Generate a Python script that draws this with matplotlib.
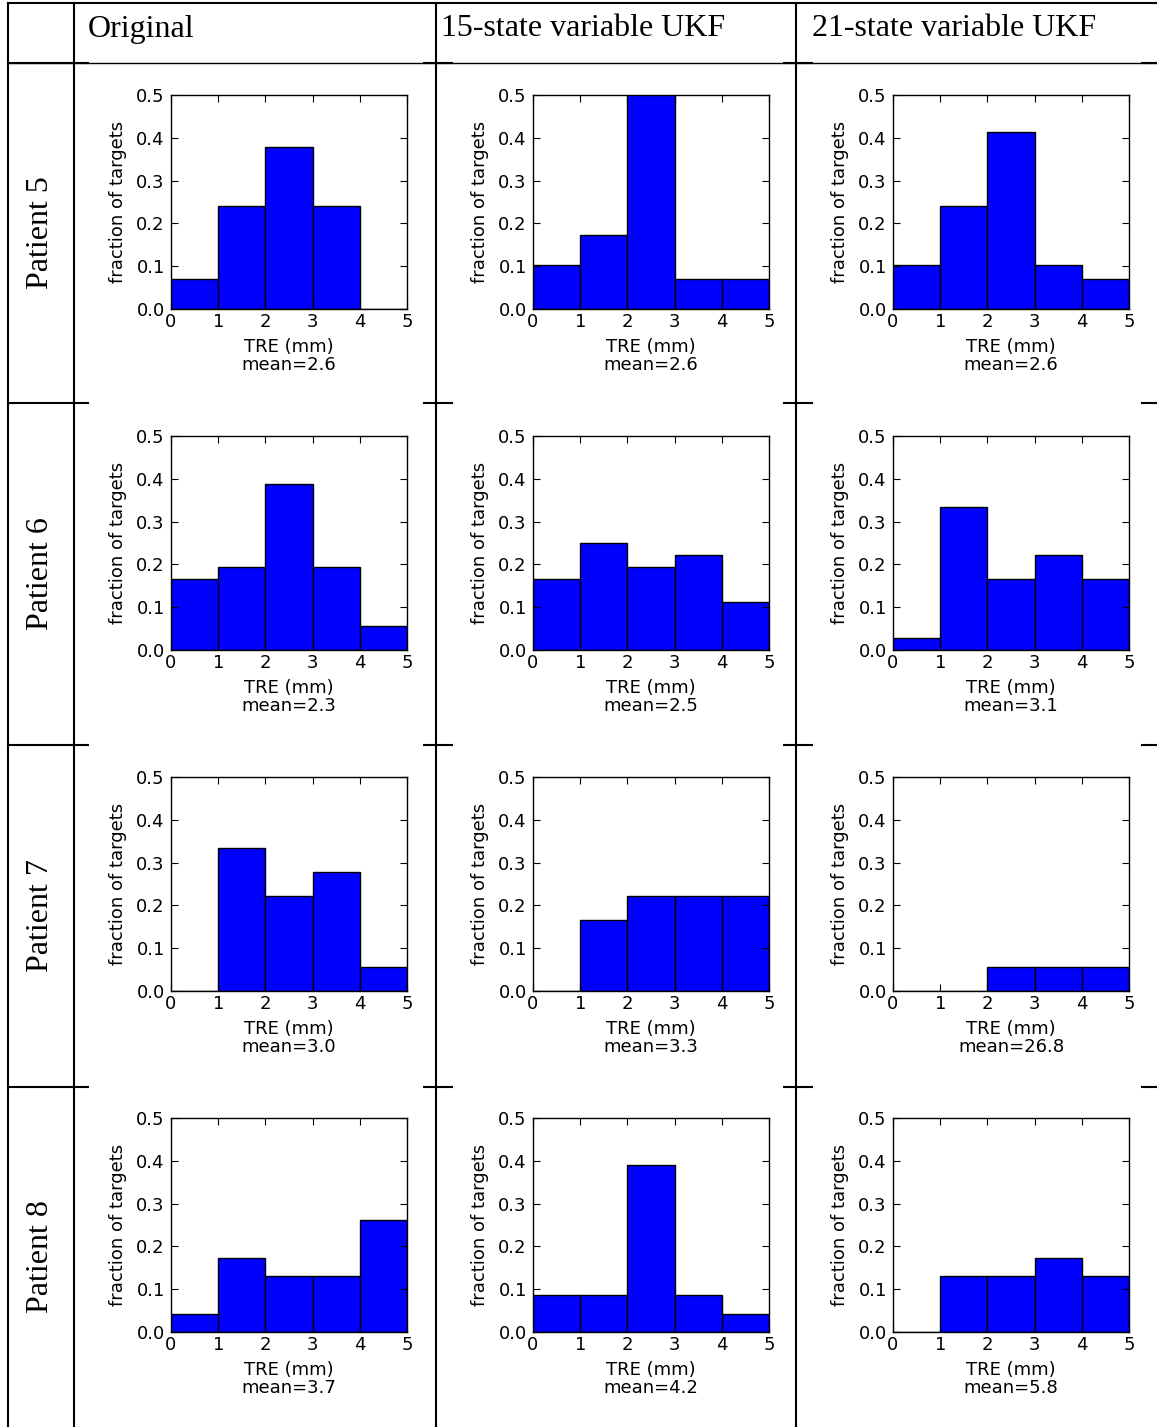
import numpy as np
import matplotlib
matplotlib.use("Agg")
import matplotlib.pyplot as plt

# histogram data: fraction of targets per 1 mm TRE bin (0-5 mm)
bin_edges = [0, 1, 2, 3, 4, 5]
methods = ["Original", "15-state variable UKF", "21-state variable UKF"]
patients = ["Patient 5", "Patient 6", "Patient 7", "Patient 8"]

p5_original = [0.069, 0.241, 0.379, 0.241, 0.0]
p5_ukf15 = [0.103, 0.172, 0.517, 0.069, 0.069]
p5_ukf21 = [0.103, 0.241, 0.414, 0.103, 0.069]

p6_original = [0.167, 0.194, 0.389, 0.194, 0.056]
p6_ukf15 = [0.167, 0.250, 0.194, 0.222, 0.111]
p6_ukf21 = [0.028, 0.333, 0.167, 0.222, 0.167]

p7_original = [0.0, 0.333, 0.222, 0.278, 0.056]
p7_ukf15 = [0.0, 0.167, 0.222, 0.222, 0.222]
p7_ukf21 = [0.0, 0.0, 0.056, 0.056, 0.056]

p8_original = [0.043, 0.174, 0.130, 0.130, 0.261]
p8_ukf15 = [0.087, 0.087, 0.391, 0.087, 0.043]
p8_ukf21 = [0.0, 0.130, 0.130, 0.174, 0.130]

means = [[2.6, 2.6, 2.6],
         [2.3, 2.5, 3.1],
         [3.0, 3.3, 26.8],
         [3.7, 4.2, 5.8]]

table = [[p5_original, p5_ukf15, p5_ukf21],
         [p6_original, p6_ukf15, p6_ukf21],
         [p7_original, p7_ukf15, p7_ukf21],
         [p8_original, p8_ukf15, p8_ukf21]]

W, H = 1157, 1427
fig = plt.figure(figsize=(W / 100, H / 100), dpi=100)

# background axes in pixel coords for the table grid
bg = fig.add_axes([0, 0, 1, 1])
bg.set_xlim(0, W)
bg.set_ylim(H, 0)
bg.axis("off")

vlines_x = [8, 74, 436, 796]
for x in vlines_x:
    bg.plot([x, x], [3, H], color="black", lw=1.5)
bg.plot([8, W], [3, 3], color="black", lw=1.5)

# header separator runs full width, row separators only show as stubs
bg.plot([8, W], [63, 63], color="black", lw=1.0)
row_lines = [63, 403, 745, 1087]
for y in row_lines:
    for x0, x1 in [(8, 88), (424, 452), (784, 812), (1142, W)]:
        bg.plot([x0, x1], [y, y], color="black", lw=1.5)

# header text
head_x = [88, 441, 812]
for x, name in zip(head_x, methods):
    bg.text(x, 29, name, fontsize=23, family="Liberation Serif",
            ha="left", va="center")

row_centers = [233, 574, 916, 1257]
for yc, name in zip(row_centers, patients):
    bg.text(41, yc, name, fontsize=23, family="Liberation Serif",
            rotation=90, ha="center", va="center")

col_left = [171, 533, 893]
row_top = [95, 436, 777, 1118]
ax_w, ax_h = 236, 214

for i, row in enumerate(table):
    for j, vals in enumerate(row):
        left = col_left[j] / W
        bottom = 1 - (row_top[i] + ax_h) / H
        ax = fig.add_axes([left, bottom, ax_w / W, ax_h / H])
        ax.bar(bin_edges[:-1], vals, width=1, align="edge",
               color="#0000ff", edgecolor="black", linewidth=1.0)
        ax.set_xlim(0, 5)
        ax.set_ylim(0, 0.5)
        ax.set_xticks(bin_edges)
        ax.set_yticks([0.0, 0.1, 0.2, 0.3, 0.4, 0.5])
        ax.set_yticklabels(["0.0", "0.1", "0.2", "0.3", "0.4", "0.5"])
        ax.tick_params(direction="in", top=True, right=True, length=5,
                       labelsize=13, colors="black")
        ax.tick_params(axis="x", pad=3)
        ax.tick_params(axis="y", pad=4.5)
        for s in ax.spines.values():
            s.set_linewidth(1.0)
        ax.set_ylabel("fraction of targets", fontsize=13, labelpad=7)
        ax.set_xlabel(f"TRE (mm)\nmean={means[i][j]}", fontsize=13,
                      labelpad=5, linespacing=1.0)

fig.savefig("out.png", dpi=100)
